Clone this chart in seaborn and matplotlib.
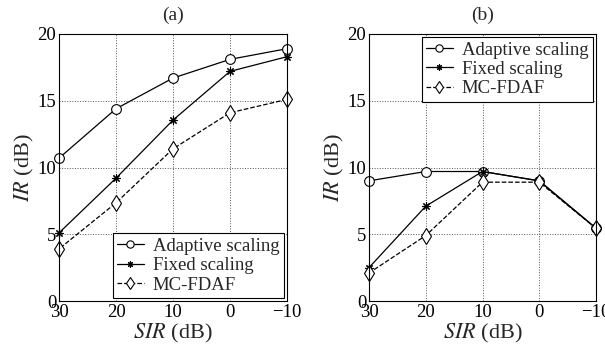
import matplotlib
matplotlib.use("Agg")
import matplotlib.pyplot as plt
import seaborn as sns
import pandas as pd

sir = [30, 20, 10, 0, -10]
a_adaptive = [10.7, 14.4, 16.7, 18.1, 18.9]
a_fixed = [5.1, 9.2, 13.55, 17.2, 18.3]
a_mcfdaf = [3.9, 7.35, 11.4, 14.1, 15.1]
b_adaptive = [9.0, 9.7, 9.7, 9.0, 5.45]
b_fixed = [2.5, 7.1, 9.7, 9.0, 5.45]
b_mcfdaf = [2.1, 4.9, 8.9, 8.9, 5.45]
labels = ["Adaptive scaling", "Fixed scaling", "MC-FDAF"]
titles = ["(a)", "(b)"]
xticks = [30, 20, 10, 0, -10]
yticks = [0, 5, 10, 15, 20]

sns.set_style("white")
plt.rcParams['font.family'] = ['Liberation Serif', 'DejaVu Serif']
plt.rcParams['mathtext.fontset'] = 'stix'

fig = plt.figure(figsize=(6.05, 3.47), dpi=100)
ax1 = fig.add_axes([59/605, 1-301/347, 228/605, 267/347])
ax2 = fig.add_axes([369/605, 1-301/347, 227/605, 267/347])

styles = [
    dict(marker='o', markersize=7, markerfacecolor='white', markeredgecolor='black', linestyle='-'),
    dict(marker=(8, 2, 0), markersize=6, markerfacecolor='black', markeredgecolor='black', linestyle='-'),
    dict(marker='d', markersize=8, markerfacecolor='white', markeredgecolor='black', linestyle='--', dashes=(5.5, 3.5)),
]

panels = [(ax1, [a_adaptive, a_fixed, a_mcfdaf], 'lower right'),
          (ax2, [b_adaptive, b_fixed, b_mcfdaf], 'upper right')]

for i, (ax, series, loc) in enumerate(panels):
    for vals, lab, st in zip(series, labels, styles):
        df = pd.DataFrame({'SIR': sir, 'IR': vals})
        sns.lineplot(data=df, x='SIR', y='IR', ax=ax, color='black', linewidth=0.9,
                     label=lab, markeredgewidth=0.8, clip_on=False, **st)
    ax.set_xlim(30, -10)
    ax.set_ylim(0, 20)
    ax.set_xticks(xticks)
    ax.set_xticklabels(['30', '20', '10', '0', '\u221210'])
    ax.set_yticks(yticks)
    ax.grid(True, linestyle=':', color='#555555', linewidth=0.7)
    ax.tick_params(direction='in', length=3, labelsize=13.5, colors='black', pad=2)
    for s in ax.spines.values():
        s.set_color('black')
        s.set_linewidth(0.8)
    ax.set_xlabel(r'$SIR$ (dB)', fontsize=16, labelpad=1)
    ax.set_ylabel(r'$IR$ (dB)', fontsize=16, labelpad=1)
    ax.set_title(titles[i], fontsize=14, pad=10)
    leg = ax.legend(loc=loc, fontsize=13.5, frameon=True, fancybox=False,
                    edgecolor='black', framealpha=1, handlelength=1.4,
                    borderpad=0.25, labelspacing=0.12, handletextpad=0.5,
                    borderaxespad=0.15, markerscale=0.75)
    leg.get_frame().set_linewidth(0.8)

fig.savefig('out.png', dpi=100)
